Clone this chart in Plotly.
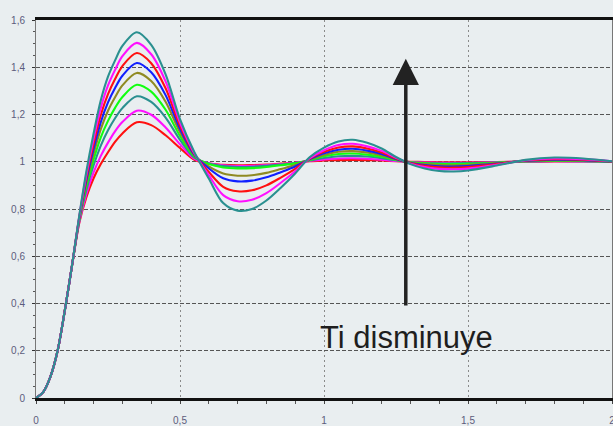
import plotly.graph_objects as go

# Sample times (s)
t = [0, 0.025, 0.05, 0.075, 0.1, 0.125, 0.15, 0.175, 0.2, 0.225, 0.25, 0.275, 0.3,
     0.35, 0.4, 0.45, 0.5, 0.55, 0.6, 0.65, 0.7, 0.75, 0.8, 0.85, 0.9, 0.95,
     1.0, 1.05, 1.1, 1.15, 1.2, 1.25, 1.3, 1.35, 1.4, 1.45, 1.5, 1.6, 1.7, 1.8, 1.9, 2.0]

# Step responses, from the largest Ti (smallest overshoot) to the smallest Ti
resp_1 = [0, 0.025, 0.09, 0.2, 0.37, 0.56, 0.74, 0.85, 0.93, 0.99, 1.04, 1.085, 1.12,
          1.167, 1.155, 1.112, 1.058, 1.008, 0.992, 0.987, 0.985, 0.986, 0.988, 0.992, 0.996, 1.002,
          1.005, 1.007, 1.008, 1.007, 1.005, 1.002, 1.0, 0.999, 0.998, 0.998, 0.998, 0.999, 1.0, 1.001, 1.001, 1.0]
resp_2 = [0, 0.025, 0.09, 0.2, 0.37, 0.56, 0.744, 0.864, 0.955, 1.025, 1.081, 1.13, 1.168,
          1.216, 1.199, 1.145, 1.074, 1.012, 0.994, 0.985, 0.982, 0.983, 0.986, 0.990, 0.996, 1.003,
          1.010, 1.014, 1.015, 1.013, 1.009, 1.003, 0.999, 0.997, 0.996, 0.996, 0.996, 0.998, 1.001, 1.002, 1.001, 1.0]
resp_3 = [0, 0.025, 0.09, 0.2, 0.37, 0.56, 0.749, 0.882, 0.985, 1.068, 1.133, 1.185, 1.227,
          1.277, 1.253, 1.187, 1.093, 1.017, 0.993, 0.982, 0.978, 0.979, 0.983, 0.988, 0.995, 1.005,
          1.016, 1.023, 1.025, 1.022, 1.015, 1.006, 0.998, 0.995, 0.993, 0.993, 0.994, 0.997, 1.001, 1.003, 1.002, 1.0]
resp_4 = [0, 0.025, 0.09, 0.2, 0.37, 0.56, 0.753, 0.896, 1.009, 1.103, 1.173, 1.229, 1.274,
          1.326, 1.297, 1.22, 1.109, 1.021, 0.99, 0.976, 0.972, 0.973, 0.978, 0.985, 0.993, 1.007,
          1.023, 1.033, 1.035, 1.030, 1.021, 1.008, 0.998, 0.993, 0.99, 0.99, 0.991, 0.996, 1.002, 1.004, 1.003, 1.0]
resp_5 = [0, 0.025, 0.09, 0.2, 0.37, 0.56, 0.757, 0.91, 1.034, 1.138, 1.216, 1.274, 1.323,
          1.376, 1.342, 1.254, 1.125, 1.026, 0.98, 0.95, 0.941, 0.943, 0.953, 0.969, 0.986, 1.009,
          1.029, 1.042, 1.045, 1.039, 1.027, 1.01, 0.996, 0.99, 0.986, 0.985, 0.987, 0.994, 1.003, 1.007, 1.005, 1.001]
resp_6 = [0, 0.025, 0.09, 0.2, 0.37, 0.56, 0.76, 0.923, 1.055, 1.168, 1.251, 1.313, 1.364,
          1.418, 1.379, 1.282, 1.139, 1.029, 0.972, 0.93, 0.917, 0.92, 0.934, 0.956, 0.98, 1.011,
          1.036, 1.051, 1.055, 1.047, 1.033, 1.012, 0.995, 0.986, 0.981, 0.98, 0.982, 0.992, 1.004, 1.009, 1.007, 1.001]
resp_7 = [0, 0.025, 0.09, 0.2, 0.37, 0.56, 0.763, 0.935, 1.076, 1.198, 1.286, 1.351, 1.405,
          1.46, 1.417, 1.311, 1.152, 1.033, 0.957, 0.894, 0.875, 0.879, 0.90, 0.933, 0.97, 1.013,
          1.042, 1.06, 1.065, 1.056, 1.039, 1.014, 0.994, 0.983, 0.976, 0.975, 0.978, 0.99, 1.005, 1.011, 1.009, 1.001]
resp_8 = [0, 0.025, 0.09, 0.2, 0.37, 0.56, 0.767, 0.947, 1.098, 1.228, 1.323, 1.39, 1.447,
          1.503, 1.455, 1.34, 1.166, 1.036, 0.943, 0.859, 0.833, 0.839, 0.867, 0.911, 0.96, 1.015,
          1.049, 1.071, 1.076, 1.065, 1.046, 1.017, 0.992, 0.978, 0.97, 0.968, 0.971, 0.987, 1.006, 1.014, 1.011, 1.002]
resp_9 = [0, 0.025, 0.09, 0.2, 0.37, 0.56, 0.77, 0.96, 1.12, 1.26, 1.36, 1.43, 1.49,
          1.548, 1.495, 1.37, 1.18, 1.04, 0.929, 0.825, 0.793, 0.80, 0.836, 0.89, 0.95, 1.019,
          1.06, 1.086, 1.093, 1.08, 1.056, 1.02, 0.99, 0.971, 0.961, 0.959, 0.963, 0.984, 1.008, 1.018, 1.014, 1.002]

series = [resp_1, resp_2, resp_3, resp_4, resp_5, resp_6, resp_7, resp_8, resp_9]
colors = ["#ff1010", "#ff10ff", "#2a9090", "#10ff10", "#8f8a22",
          "#1020ff", "#ff1010", "#ff10ff", "#2a9090"]

y_ticks = [0, 0.2, 0.4, 0.6, 0.8, 1.0, 1.2, 1.4, 1.6]
y_labels = ["0", "0,2", "0,4", "0,6", "0,8", "1", "1,2", "1,4", "1,6"]
x_ticks = [0, 0.5, 1.0, 1.5, 2.0]
x_labels = ["0", "0,5", "1", "1,5", "2"]

label_text = "Ti disminuye"
arrow_x = 1.284
arrow_tip = 1.436
arrow_tail = 0.385

bg = "#e9eef0"

fig = go.Figure()
for ys, c in zip(series, colors):
    fig.add_trace(go.Scatter(
        x=t, y=ys, mode="lines",
        line=dict(color=c, width=2.1, shape="spline", smoothing=0.9),
        showlegend=False, hoverinfo="skip",
    ))

fig.add_annotation(
    x=arrow_x, y=arrow_tip, ax=arrow_x, ay=arrow_tail,
    xref="x", yref="y", axref="x", ayref="y",
    showarrow=True, arrowhead=2, arrowsize=1.5, arrowwidth=3.5,
    arrowcolor="#222222", text="",
)
fig.add_annotation(
    x=1.2865, y=0.255, xref="x", yref="y",
    text=label_text, showarrow=False,
    font=dict(family="Liberation Sans, Arial, sans-serif", size=31, color="#1e1e1e"),
    xanchor="center", yanchor="middle",
)

tick_font = dict(family="Liberation Sans, Arial, sans-serif", size=10, color="#5c5c7c")

fig.update_layout(
    width=613, height=426,
    margin=dict(l=36, r=1, t=20, b=28),
    paper_bgcolor=bg, plot_bgcolor=bg,
    xaxis=dict(
        range=[0, 2], tickvals=x_ticks, ticktext=x_labels,
        showgrid=True, gridcolor="#8a8a8a", gridwidth=1, griddash="2px,3px",
        zeroline=False, showline=True, linecolor="#111111", linewidth=3, mirror=True,
        ticks="outside", ticklen=3, tickcolor="#444444", tickfont=tick_font,
        ticklabelstandoff=8, ticklabeloverflow="allow", automargin=False,
        minor=dict(dtick=0.1, ticks="outside", ticklen=3, tickcolor="#555555", showgrid=False),
    ),
    yaxis=dict(
        range=[0, 1.6], tickvals=y_ticks, ticktext=y_labels,
        showgrid=True, gridcolor="#555555", gridwidth=1, griddash="4px,2px",
        zeroline=False, showline=True, linecolor="#777777", linewidth=1, mirror=True,
        ticks="outside", ticklen=3, tickcolor="#333333", tickfont=tick_font,
        ticklabelstandoff=5, ticklabeloverflow="allow", automargin=False,
        minor=dict(dtick=0.05, ticks="outside", ticklen=2, tickcolor="#555555", showgrid=False),
    ),
)

fig.write_html("out.html")
